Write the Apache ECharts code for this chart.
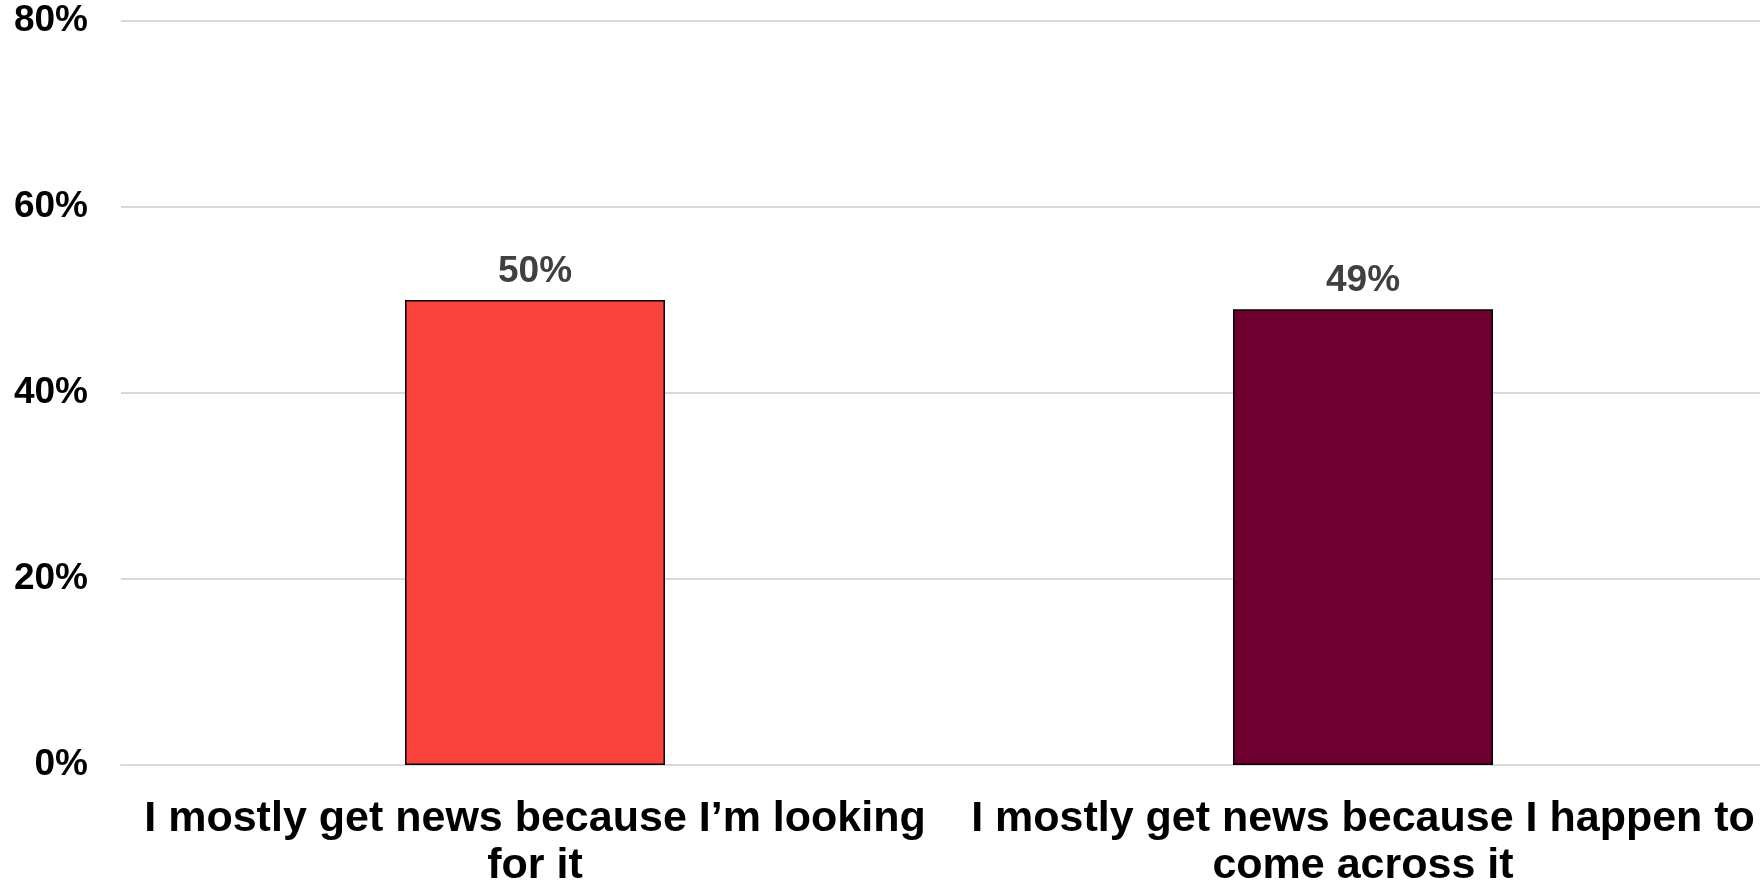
<!DOCTYPE html>
<html>
<head>
<meta charset="utf-8">
<script src="https://cdn.jsdelivr.net/npm/echarts@6/dist/echarts.min.js"></script>
<style>
html,body{margin:0;padding:0;background:#fff;}
#chart{width:1760px;height:883px;}
</style>
</head>
<body>
<div id="chart"></div>
<script>
const categories = [
  "I mostly get news because I\u2019m looking\nfor it",
  "I mostly get news because I happen to\ncome across it"
];
const values = [50, 49];
const barColors = ["#FA433D", "#6E0030"];
const yTicks = [0, 20, 40, 60, 80];

const chart = echarts.init(document.getElementById('chart'));
chart.setOption({
  animation: false,
  grid: { left: 121, width: 1656, top: 21, bottom: 118, containLabel: false, outerBoundsMode: 'none' },
  xAxis: {
    type: 'category',
    data: categories,
    axisLine: { show: true, lineStyle: { color: '#d9d9d9', width: 2 } },
    axisTick: { show: false },
    axisLabel: {
      interval: 0,
      margin: 31,
      fontFamily: 'Liberation Sans, Arial, sans-serif',
      fontWeight: 'bold',
      fontSize: 43,
      lineHeight: 47,
      color: '#000'
    }
  },
  yAxis: {
    type: 'value',
    min: yTicks[0],
    max: yTicks[yTicks.length - 1],
    interval: 20,
    axisLine: { show: false },
    axisTick: { show: false },
    splitLine: { lineStyle: { color: '#d9d9d9', width: 2 } },
    axisLabel: {
      formatter: v => v + '%',
      margin: 33,
      fontFamily: 'Liberation Sans, Arial, sans-serif',
      fontWeight: 'bold',
      fontSize: 37,
      color: '#000'
    }
  },
  series: [{
    type: 'bar',
    barWidth: 260,
    data: values.map((v, i) => ({
      value: v,
      itemStyle: { color: barColors[i], borderColor: '#000', borderWidth: 1.5 }
    })),
    label: {
      show: true,
      position: 'top',
      distance: 10,
      formatter: p => p.value + '%',
      fontFamily: 'Liberation Sans, Arial, sans-serif',
      fontWeight: 'bold',
      fontSize: 37,
      color: '#404040'
    }
  }]
});
</script>
</body>
</html>
